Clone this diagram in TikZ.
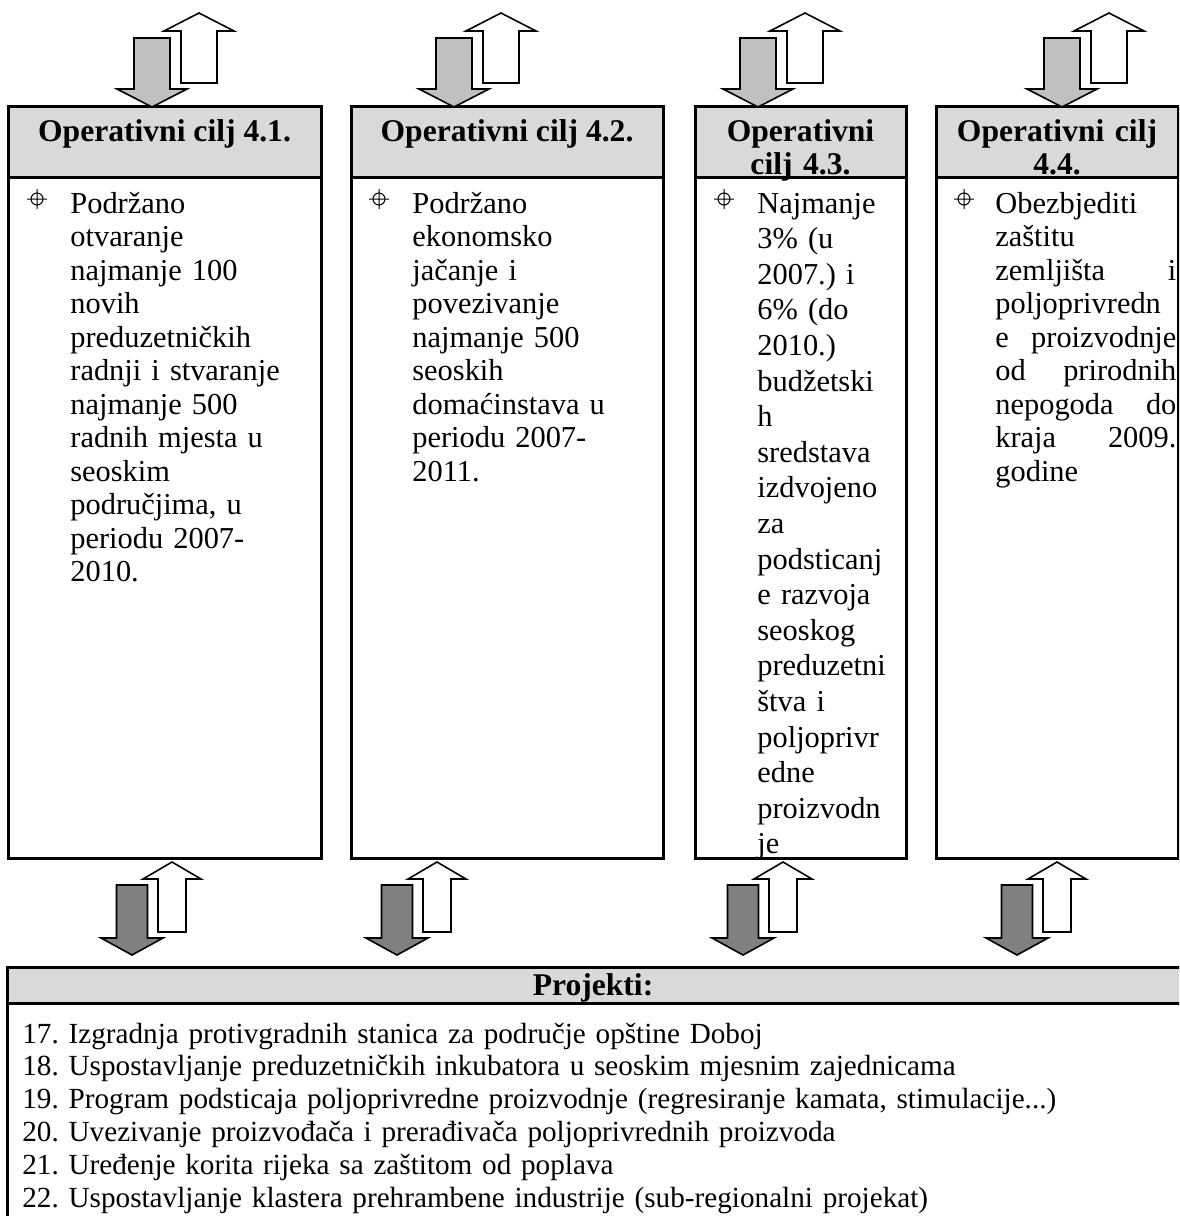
\documentclass[tikz,border=0pt]{standalone}
\usepackage{fontspec}
\setmainfont{Liberation Serif}
\definecolor{hdrgray}{HTML}{D9D9D9}
\definecolor{topgray}{HTML}{C0C0C0}
\definecolor{lowgray}{HTML}{808080}
\frenchspacing

\begin{document}
\begin{tikzpicture}[x=0.5pt,y=-0.5pt,
    frame/.style={line width=1.5pt},
    arr/.style={line width=0.8pt,line join=miter},
    headtext/.style={anchor=base,inner sep=0pt,align=center,font=\fontsize{15.8}{16.5}\selectfont\bfseries},
    bodytext/.style={anchor=base west,inner sep=0pt,align=left,font=\fontsize{15.2}{16.75}\selectfont}]
      \useasboundingbox (0,0) rectangle (1179,1216);
      \clip (0,0) rectangle (1179,1216);

      % operativni ciljevi
      \foreach \l/\r in {8/321,351/663,695/906,936/1178}{
        \fill[hdrgray] (\l,106) rectangle (\r,177);
        \draw[frame] (\l,106) rectangle (\r,858);
        \draw[frame] (\l,177) -- (\r,177);
      }
      \node[headtext] (cilj1) at (164.5,141) {Operativni cilj 4.1.};
      \node[headtext] (cilj2) at (507,141) {Operativni cilj 4.2.};
      \node[headtext,text width=100pt] (cilj3) at (800.5,141) {Operativni\\cilj 4.3.};
      \node[headtext,text width=118pt] (cilj4) at (1057,141) {Operativni cilj\\4.4.};

      \foreach \x in {37,379,724,964}
        \draw[line width=0.5pt] (\x,199) circle[radius=6] (\x-10,199) -- (\x+10,199) (\x,189) -- (\x,209);

      \node[bodytext,text width=120pt] (opis1) at (70,213) {Podržano\\otvaranje\\najmanje 100\\novih\\preduzetničkih\\radnji i stvaranje\\najmanje 500\\radnih mjesta u\\seoskim\\područjima, u\\periodu 2007-\\2010.};
      \node[bodytext,text width=120pt] (opis2) at (412,213) {Podržano\\ekonomsko\\jačanje i\\povezivanje\\najmanje 500\\seoskih\\domaćinstava u\\periodu 2007-\\2011.};
      \node[bodytext,text width=72pt,font=\fontsize{15.2}{17.8}\selectfont] (opis3) at (757,213) {Najmanje\\3\% (u\\2007.) i\\6\% (do\\2010.)\\budžetski\\h\\sredstava\\izdvojeno\\za\\podsticanj\\e razvoja\\seoskog\\preduzetni\\štva i\\poljoprivr\\edne\\proizvodn\\je};
      \node[bodytext,text width=90.5pt] (opis4) at (995,213) {Obezbjediti\\zaštitu\\zemljišta\hfill i\\poljoprivredn\\e\hfill proizvodnje\\od\hfill prirodnih\\nepogoda\hfill do\\kraja\hfill 2009.\\godine};

      % strelice gore
      \foreach \c in {152,454,758,1062}{
        \draw[arr,fill=topgray] (\c-18,38) -- (\c+18,38) -- (\c+18,89) -- (\c+35,89) -- (\c,107) -- (\c-35,89) -- (\c-18,89) -- cycle;
        \draw[arr,fill=white] (\c+29,83) -- (\c+29,31) -- (\c+12,31) -- (\c+47,13) -- (\c+82,31) -- (\c+65,31) -- (\c+65,83) -- cycle;
      }
      % strelice dolje
      \foreach \c in {132,397,743,1017}{
        \draw[arr,fill=lowgray] (\c-15.5,885) -- (\c+15.5,885) -- (\c+15.5,938) -- (\c+31,938) -- (\c,955) -- (\c-31,938) -- (\c-15.5,938) -- cycle;
        \draw[arr,fill=white] (\c+26,932) -- (\c+26,879) -- (\c+11,879) -- (\c+40,862) -- (\c+69,879) -- (\c+54,879) -- (\c+54,932) -- cycle;
      }

      % projekti
      \fill[hdrgray] (7,967) rectangle (1190,1003);
      \draw[frame] (1190,967) -- (7,967) -- (7,1230);
      \draw[frame] (7,1003) -- (1190,1003);
      \node[headtext] (projekti) at (593,995) {Projekti:};
      \node[bodytext,text width=560pt,font=\fontsize{14.6}{16.4}\selectfont] (lista) at (22,1043) {17. Izgradnja protivgradnih stanica za područje opštine Doboj\\18. Uspostavljanje preduzetničkih inkubatora u seoskim mjesnim zajednicama\\19. Program podsticaja poljoprivredne proizvodnje (regresiranje kamata, stimulacije...)\\20. Uvezivanje proizvođača i prerađivača poljoprivrednih proizvoda\\21. Uređenje korita rijeka sa zaštitom od poplava\\22. Uspostavljanje klastera prehrambene industrije (sub-regionalni projekat)};
    \end{tikzpicture}
\end{document}
